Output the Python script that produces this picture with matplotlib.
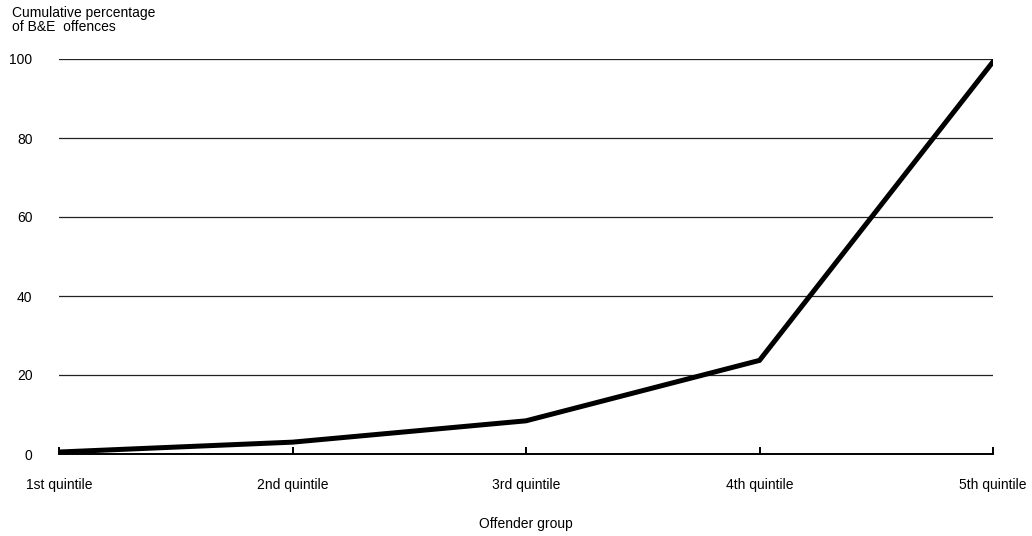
import matplotlib
matplotlib.use('Agg')
import matplotlib.pyplot as plt

plt.rcParams['font.family'] = ['Liberation Sans Narrow', 'Liberation Sans', 'DejaVu Sans']

groups = ['1st quintile', '2nd quintile', '3rd quintile', '4th quintile', '5th quintile']
cum_pct = [0.5, 3.0, 8.4, 23.7, 99.3]
yticks = [0, 20, 40, 60, 80, 100]

fig = plt.figure(figsize=(10.32, 5.36), dpi=100)
ax = fig.add_axes([59/1032, 82/536, 934/1032, 395/536])

for y in yticks[1:]:
    ax.axhline(y, color='#222222', lw=0.9, zorder=1)

x = list(range(len(groups)))
ax.plot(x, cum_pct, color='black', lw=3.6, solid_joinstyle='miter', zorder=3)

ax.set_xlim(0, len(groups) - 1)
ax.set_ylim(0, 100)
for s in ['top', 'right', 'left']:
    ax.spines[s].set_visible(False)
ax.spines['bottom'].set_linewidth(1.4)

fs = 10
ax.set_xticks(x)
ax.set_xticklabels(groups, fontsize=fs)
ax.tick_params(axis='x', direction='in', length=5, width=1.4, pad=17)
ax.set_yticks(yticks)
ax.set_yticklabels([str(v) for v in yticks], fontsize=fs)
ax.tick_params(axis='y', length=0, pad=19)

ax.set_xlabel('Offender group', fontsize=fs, labelpad=18)
fig.text(12/1032, 1 - 6/536, 'Cumulative percentage\nof B&E  offences', fontsize=fs,
         va='top', ha='left', linespacing=1.0)

fig.savefig('out.png', dpi=100)
